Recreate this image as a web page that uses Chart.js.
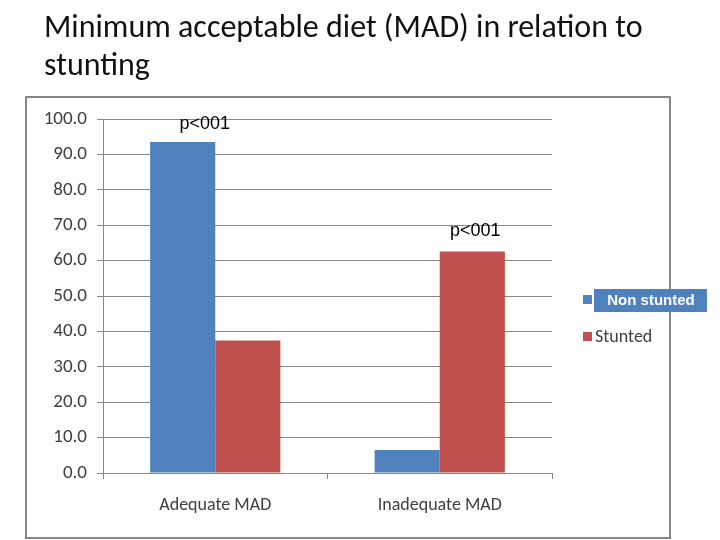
<!DOCTYPE html>
<html>
<head>
<meta charset="utf-8">
<script src="https://cdn.jsdelivr.net/npm/chart.js@4"></script>
<style>
  html, body { margin: 0; padding: 0; background: #fff; }
  #wrap { position: relative; width: 720px; height: 540px; }
  canvas { position: absolute; left: 0; top: 0; }
</style>
</head>
<body>
<div id="wrap"><canvas id="c" width="720" height="540"></canvas></div>
<script>
const titleLines = ["Minimum acceptable diet (MAD) in relation to", "stunting"];
const categories = ["Adequate MAD", "Inadequate MAD"];
const seriesNames = ["Non stunted", "Stunted"];
const nonStunted = [93.5, 6.5];
const stunted = [37.4, 62.6];
const pLabels = ["p<001", "p<001"];
const colors = ["#4F81BD", "#C0504D"];

const tickFont = "'Carlito', 'Liberation Sans', sans-serif";
const titleFont = "'Carlito', 'Open Sans', 'Liberation Sans', sans-serif";

const decorPlugin = {
  id: 'decor',
  beforeDraw(chart) {
    const ctx = chart.ctx;
    ctx.save();
    ctx.fillStyle = '#fff';
    ctx.fillRect(0, 0, chart.width, chart.height);
    // title
    ctx.fillStyle = '#111';
    ctx.font = "32px " + titleFont;
    ctx.textAlign = 'left';
    ctx.textBaseline = 'alphabetic';
    ctx.fillText(titleLines[0], 44, 37);
    ctx.fillText(titleLines[1], 44, 75);
    // frame
    ctx.strokeStyle = '#868686';
    ctx.lineWidth = 2;
    ctx.strokeRect(26, 97, 644, 441);
    ctx.restore();
  },
  afterDatasetsDraw(chart) {
    const ctx = chart.ctx;
    const y = chart.scales.y;
    ctx.save();
    ctx.fillStyle = '#000';
    ctx.font = "18px 'Liberation Sans', Arial, sans-serif";
    ctx.textAlign = 'center';
    ctx.textBaseline = 'alphabetic';
    const m0 = chart.getDatasetMeta(0), m1 = chart.getDatasetMeta(1);
    ctx.fillText(pLabels[0], m0.data[0].x + 22, y.getPixelForValue(Math.max(nonStunted[0], stunted[0])) - 13);
    ctx.fillText(pLabels[1], m1.data[1].x + 3, y.getPixelForValue(Math.max(nonStunted[1], stunted[1])) - 15);
    // legend
    const lx = 583;
    ctx.fillStyle = colors[0];
    ctx.fillRect(lx, 295, 9, 9);
    ctx.fillRect(594, 289, 113, 23);
    ctx.fillStyle = '#fff';
    ctx.font = "bold 15px 'Liberation Sans', Arial, sans-serif";
    ctx.textAlign = 'center';
    ctx.textBaseline = 'middle';
    ctx.fillText(seriesNames[0], 651, 301);
    ctx.fillStyle = colors[1];
    ctx.fillRect(lx, 332, 9, 9);
    ctx.fillStyle = '#404040';
    ctx.font = "18px " + tickFont;
    ctx.textAlign = 'left';
    ctx.fillText(seriesNames[1], 595, 337);
    ctx.restore();
  }
};

new Chart(document.getElementById('c'), {
  type: 'bar',
  data: {
    labels: categories,
    datasets: [
      { label: seriesNames[0], data: nonStunted, backgroundColor: colors[0] },
      { label: seriesNames[1], data: stunted, backgroundColor: colors[1] }
    ]
  },
  options: {
    responsive: false,
    animation: false,
    devicePixelRatio: 1,
    layout: { padding: { left: 25, top: 119, right: 168, bottom: 27 } },
    plugins: { legend: { display: false }, tooltip: { enabled: false }, title: { display: false } },
    datasets: { bar: { barPercentage: 1, categoryPercentage: 0.58 } },
    scales: {
      x: {
        afterFit(s) { s.height = 40; },
        grid: { drawOnChartArea: false, drawTicks: true, tickLength: 6, color: '#868686', offset: true },
        border: { color: '#868686', width: 1 },
        ticks: { color: '#404040', font: { family: tickFont, size: 18 }, padding: 16 }
      },
      y: {
        min: 0, max: 100,
        afterFit(s) { s.width = 78; },
        grid: { color: '#868686', tickLength: 6, drawTicks: true },
        border: { color: '#868686', width: 1 },
        ticks: {
          stepSize: 10,
          color: '#404040',
          font: { family: tickFont, size: 19 },
          padding: 10,
          callback: v => Number(v).toFixed(1)
        }
      }
    }
  },
  plugins: [decorPlugin]
});
</script>
</body>
</html>
